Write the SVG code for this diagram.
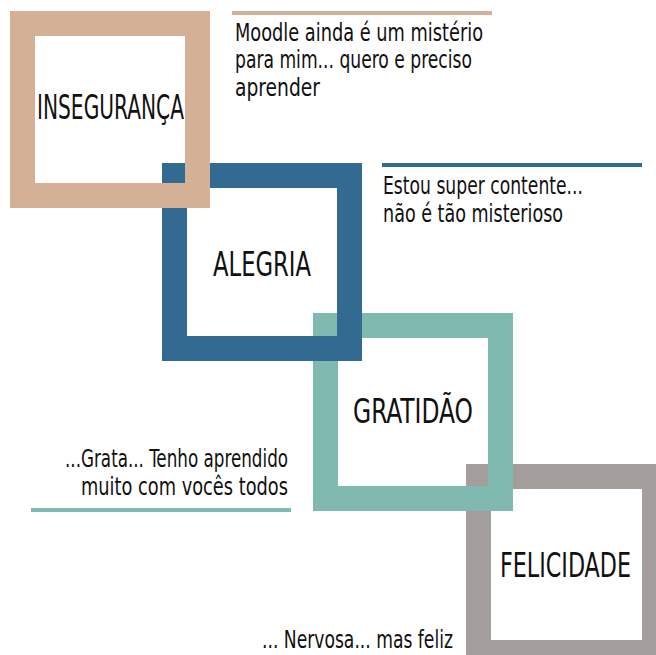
<svg xmlns="http://www.w3.org/2000/svg" width="656" height="655" viewBox="0 0 656 655">
<style>
.frame{fill:none;stroke-width:25}
.label{font-family:"DejaVu Sans Condensed","Liberation Sans",sans-serif;font-size:33px;fill:#111}
.note{font-family:"DejaVu Sans Condensed","Liberation Sans",sans-serif;font-size:24px;fill:#111}
</style>
<rect width="656" height="655" fill="#fff"/>
<g id="felicidade">
<rect class="frame" x="478.5" y="476.5" width="176" height="176" stroke="#a39e9b"/>
<text class="label" transform="translate(500,577) scale(0.75,1)" textLength="174.7" lengthAdjust="spacingAndGlyphs">FELICIDADE</text>
</g>
<g id="gratidao">
<rect class="frame" x="325.5" y="325.5" width="175" height="173" stroke="#80b9b0"/>
<text class="label" transform="translate(353,423) scale(0.75,1)" textLength="160" lengthAdjust="spacingAndGlyphs">GRATIDÃO</text>
</g>
<g id="alegria">
<rect class="frame" x="174.5" y="175.5" width="175" height="173" stroke="#336a91"/>
<text class="label" transform="translate(213,276) scale(0.75,1)" textLength="130.7" lengthAdjust="spacingAndGlyphs">ALEGRIA</text>
</g>
<g id="inseguranca">
<rect class="frame" x="22.5" y="23.5" width="175" height="172" stroke="#d3b096"/>
<text class="label" transform="translate(37,119) scale(0.75,1)" textLength="196" lengthAdjust="spacingAndGlyphs">INSEGURANÇA</text>
</g>
<g id="connectors">
<rect x="232" y="11" width="260" height="4" fill="#d3b096"/>
<rect x="382" y="163" width="260" height="4" fill="#336a91"/>
<rect x="31" y="508" width="260" height="4" fill="#80b9b0"/>
</g>
<g id="note-inseguranca">
<text class="note" transform="translate(235,41) scale(0.85,1)" textLength="291.8" lengthAdjust="spacingAndGlyphs">Moodle ainda é um mistério</text>
<text class="note" transform="translate(235,68) scale(0.85,1)" textLength="278.8" lengthAdjust="spacingAndGlyphs">para mim... quero e preciso</text>
<text class="note" transform="translate(235,96) scale(0.85,1)" textLength="100" lengthAdjust="spacingAndGlyphs">aprender</text>
</g>
<g id="note-alegria">
<text class="note" transform="translate(383,194) scale(0.85,1)" textLength="235.3" lengthAdjust="spacingAndGlyphs">Estou super contente...</text>
<text class="note" transform="translate(383,222) scale(0.85,1)" textLength="211.8" lengthAdjust="spacingAndGlyphs">não é tão misterioso</text>
</g>
<g id="note-gratidao">
<text class="note" transform="translate(65,467) scale(0.85,1)" textLength="262.4" lengthAdjust="spacingAndGlyphs">...Grata... Tenho aprendido</text>
<text class="note" transform="translate(81,495) scale(0.85,1)" textLength="243.5" lengthAdjust="spacingAndGlyphs">muito com vocês todos</text>
</g>
<g id="note-felicidade">
<text class="note" transform="translate(262,648) scale(0.85,1)" textLength="224.7" lengthAdjust="spacingAndGlyphs">... Nervosa... mas feliz</text>
</g>
</svg>
